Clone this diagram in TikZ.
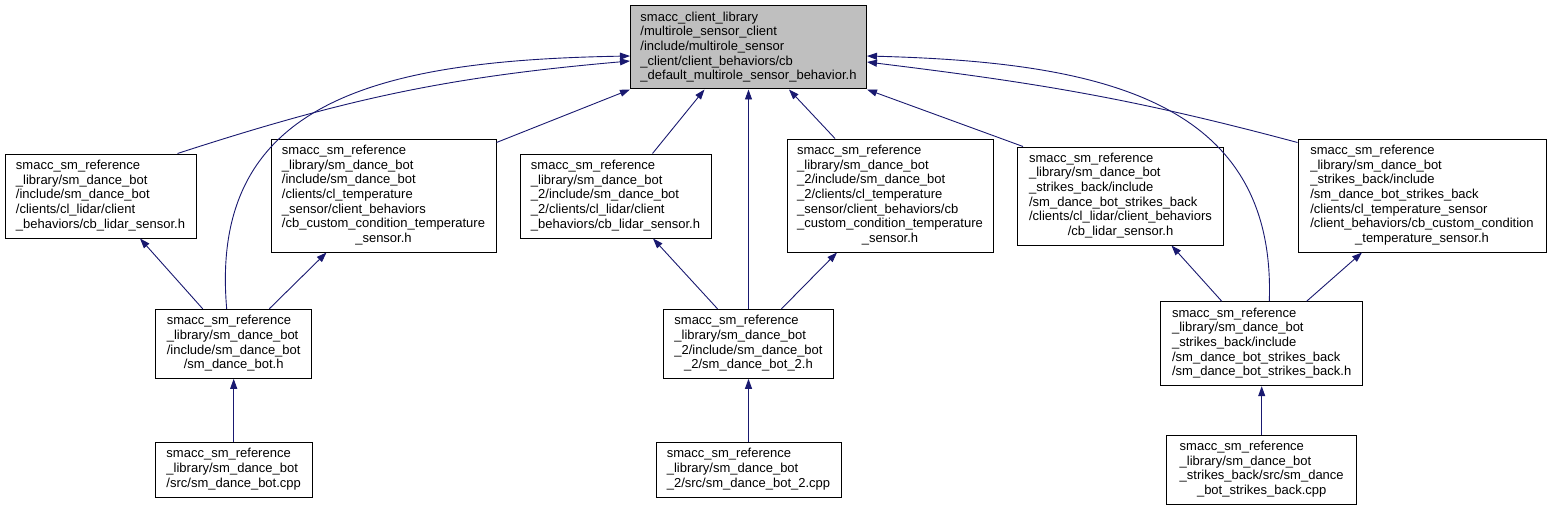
\documentclass[tikz,border=0pt]{standalone}
\usepackage{fontspec}
\setmainfont{Liberation Sans}
\usepackage{xcolor}
\usetikzlibrary{arrows.meta,positioning,calc}
\definecolor{edgeblue}{HTML}{191970}
\newcommand{\doxlbl}[2]{\begin{tabular}{@{}l@{}}#1\\\multicolumn{1}{@{}c@{}}{#2}\end{tabular}}

\begin{document}
\begin{tikzpicture}[
  x=1pt, y=1pt,
  box/.style={draw, line width=1pt, fill=white, inner sep=0pt,
              font=\fontsize{13}{14.67}\selectfont},
  rootbox/.style={box, fill=black!25},
  incl/.style={-{Triangle[length=10pt,width=7pt]}, draw=edgeblue, line width=0.9pt}
]
\fill[white] (0,0) rectangle (1551,-511);
\node[rootbox, minimum width=236, minimum height=83] (root) at (748.5,-47.5)
  {\doxlbl{smacc\_client\_library\\/multirole\_sensor\_client\\/include/multirole\_sensor\\\_client/client\_behaviors/cb}{\_default\_multirole\_sensor\_behavior.h}};
\node[box, minimum width=191, minimum height=84] (lidar1) at (100.5,-196)
  {\doxlbl{smacc\_sm\_reference\\\_library/sm\_dance\_bot\\/include/sm\_dance\_bot\\/clients/cl\_lidar/client}{\_behaviors/cb\_lidar\_sensor.h}};
\node[box, minimum width=225, minimum height=113] (temp1) at (383.5,-195.5)
  {\doxlbl{smacc\_sm\_reference\\\_library/sm\_dance\_bot\\/include/sm\_dance\_bot\\/clients/cl\_temperature\\\_sensor/client\_behaviors\\/cb\_custom\_condition\_temperature}{\_sensor.h}};
\node[box, minimum width=191, minimum height=84] (lidar2) at (615.5,-196)
  {\doxlbl{smacc\_sm\_reference\\\_library/sm\_dance\_bot\\\_2/include/sm\_dance\_bot\\\_2/clients/cl\_lidar/client}{\_behaviors/cb\_lidar\_sensor.h}};
\node[box, minimum width=206, minimum height=113] (temp2) at (890,-195.5)
  {\doxlbl{smacc\_sm\_reference\\\_library/sm\_dance\_bot\\\_2/include/sm\_dance\_bot\\\_2/clients/cl\_temperature\\\_sensor/client\_behaviors/cb\\\_custom\_condition\_temperature}{\_sensor.h}};
\node[box, minimum width=206, minimum height=98] (lidar3) at (1120.5,-196)
  {\doxlbl{smacc\_sm\_reference\\\_library/sm\_dance\_bot\\\_strikes\_back/include\\/sm\_dance\_bot\_strikes\_back\\/clients/cl\_lidar/client\_behaviors}{/cb\_lidar\_sensor.h}};
\node[box, minimum width=248, minimum height=113] (temp3) at (1422,-195.5)
  {\doxlbl{smacc\_sm\_reference\\\_library/sm\_dance\_bot\\\_strikes\_back/include\\/sm\_dance\_bot\_strikes\_back\\/clients/cl\_temperature\_sensor\\/client\_behaviors/cb\_custom\_condition}{\_temperature\_sensor.h}};
\node[box, minimum width=156, minimum height=69] (dance1h) at (233.7,-343.8)
  {\doxlbl{smacc\_sm\_reference\\\_library/sm\_dance\_bot\\/include/sm\_dance\_bot}{/sm\_dance\_bot.h}};
\node[box, minimum width=157, minimum height=55] (dance1cpp) at (233.7,-469.7)
  {\doxlbl{smacc\_sm\_reference\\\_library/sm\_dance\_bot}{/src/sm\_dance\_bot.cpp}};
\node[box, minimum width=170, minimum height=69] (dance2h) at (748.5,-343.8)
  {\doxlbl{smacc\_sm\_reference\\\_library/sm\_dance\_bot\\\_2/include/sm\_dance\_bot}{\_2/sm\_dance\_bot\_2.h}};
\node[box, minimum width=185, minimum height=55] (dance2cpp) at (748.5,-469.7)
  {\doxlbl{smacc\_sm\_reference\\\_library/sm\_dance\_bot}{\_2/src/sm\_dance\_bot\_2.cpp}};
\node[box, minimum width=202, minimum height=84] (sbh) at (1261.7,-343.7)
  {\doxlbl{smacc\_sm\_reference\\\_library/sm\_dance\_bot\\\_strikes\_back/include\\/sm\_dance\_bot\_strikes\_back}{/sm\_dance\_bot\_strikes\_back.h}};
\node[box, minimum width=190, minimum height=69] (sbcpp) at (1261.7,-469.7)
  {\doxlbl{smacc\_sm\_reference\\\_library/sm\_dance\_bot\\\_strikes\_back/src/sm\_dance}{\_bot\_strikes\_back.cpp}};
\draw[incl] ([xshift=-7pt]dance1h.north) to[out=95,in=181,out distance=210pt,in distance=250pt] ([yshift=-8.5pt]root.west);
\draw[incl] ([xshift=-19pt]lidar1.north east) to[out=18,in=185] ([yshift=-13.5pt]root.west);
\draw[incl] ([yshift=-4pt]temp1.north east) -- (root.south west);
\draw[incl] ([xshift=37pt]lidar2.north) -- ([xshift=-44pt]root.south);
\draw[incl] (dance2h.north) -- (root.south);
\draw[incl] ([xshift=-55pt]temp2.north) -- ([xshift=40.5pt]root.south);
\draw[incl] ([xshift=6pt]lidar3.north west) -- (root.south east);
\draw[incl] ([xshift=7.6pt]sbh.north) to[out=88,in=358.5,out distance=202pt,in distance=233pt] ([yshift=-8.5pt]root.east);
\draw[incl] ([yshift=-4pt]temp3.north west) to[out=165,in=353] ([yshift=-14.5pt]root.east);
\draw[incl] ([xshift=-31pt]dance1h.north) -- ([xshift=39.5pt]lidar1.south);
\draw[incl] ([xshift=35.6pt]dance1h.north) -- ([xshift=-57pt]temp1.south);
\draw[incl] (dance1cpp.north) -- (dance1h.south);
\draw[incl] ([xshift=-31pt]dance2h.north) -- ([xshift=37.5pt]lidar2.south);
\draw[incl] ([xshift=33pt]dance2h.north) -- ([xshift=-53pt]temp2.south);
\draw[incl] (dance2cpp.north) -- (dance2h.south);
\draw[incl] ([xshift=-40pt]sbh.north) -- ([xshift=51pt]lidar3.south);
\draw[incl] ([xshift=45pt]sbh.north) -- ([xshift=-60pt]temp3.south);
\draw[incl] (sbcpp.north) -- (sbh.south);
\end{tikzpicture}
\end{document}
